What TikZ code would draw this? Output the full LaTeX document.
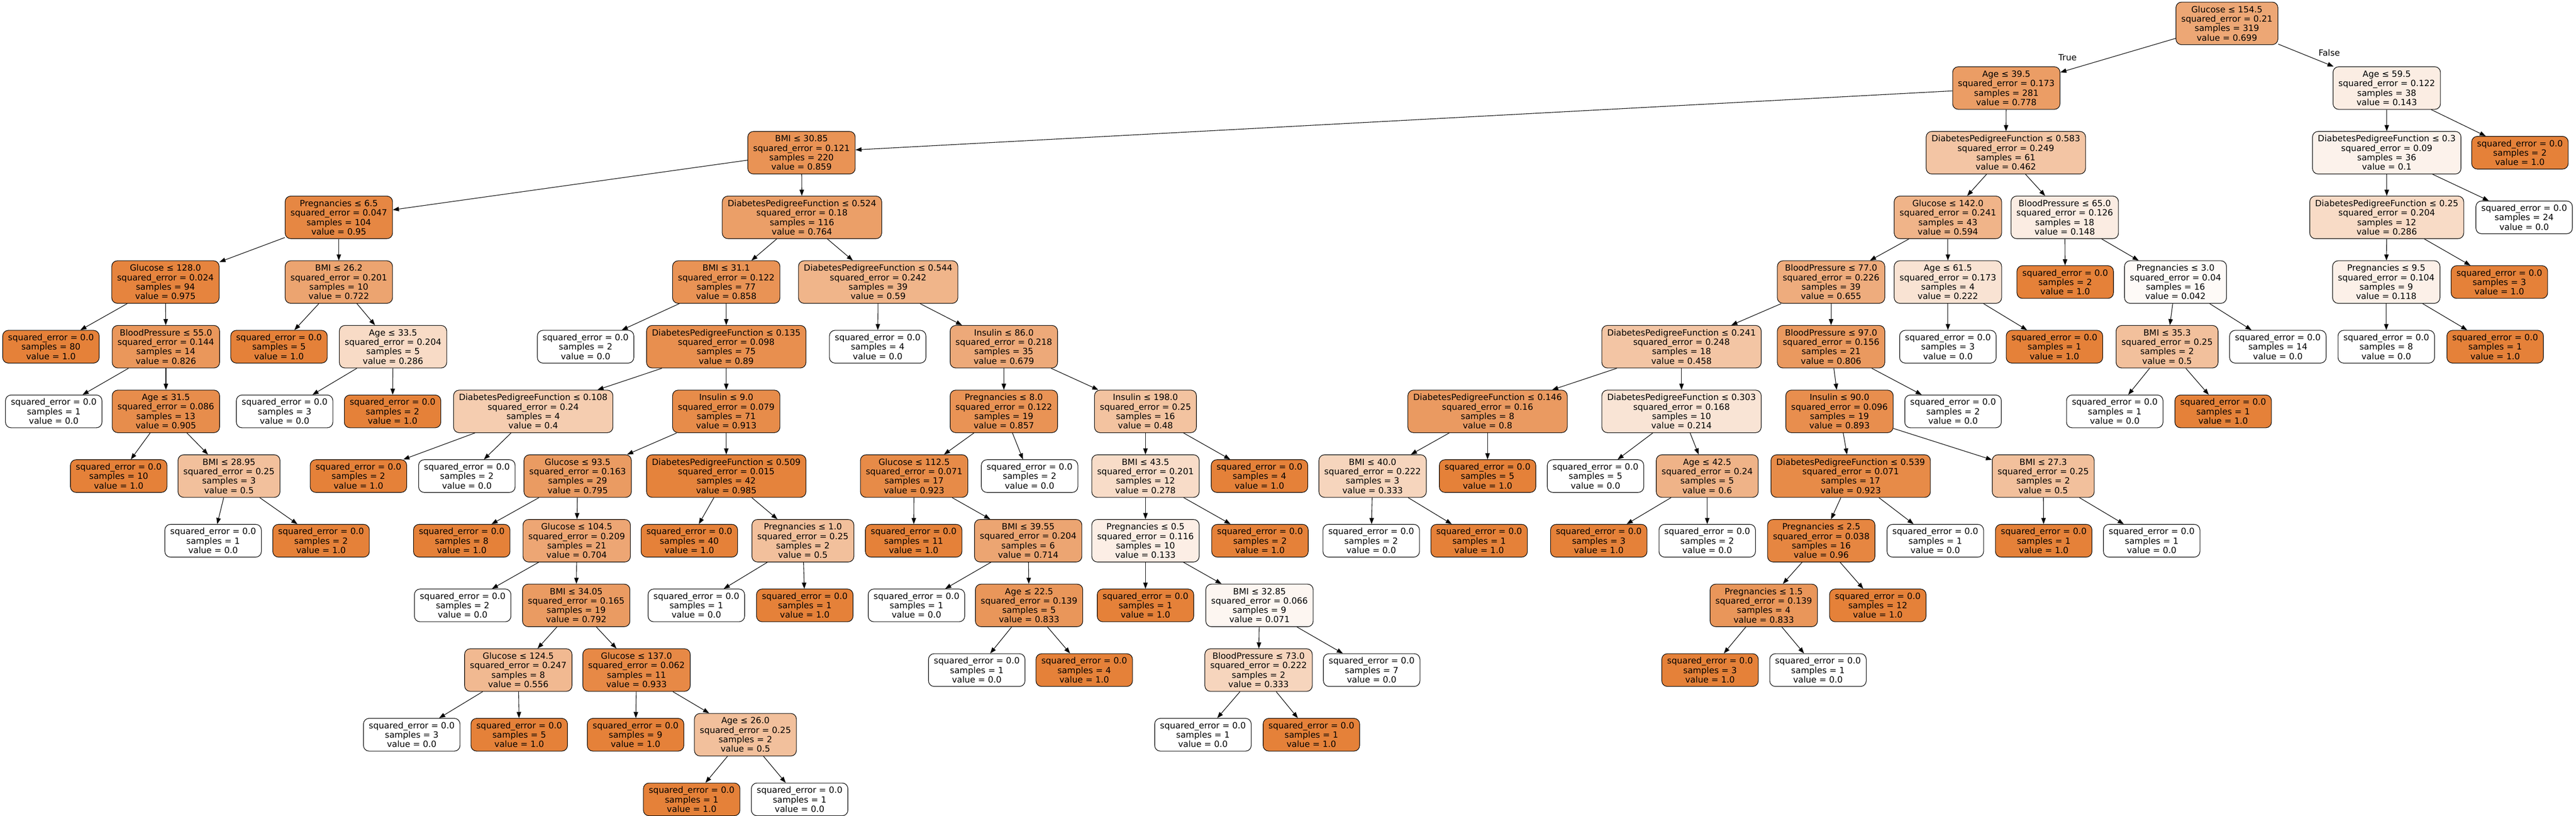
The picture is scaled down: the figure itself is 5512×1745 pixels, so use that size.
\documentclass[tikz,border=0pt]{standalone}
\usepackage{fontspec}
\setmainfont{DejaVu Sans}
\usetikzlibrary{arrows.meta}
\definecolor{sk}{RGB}{229,129,57}
\newcommand{\tfont}{\fontsize{18.3pt}{20.2pt}\selectfont}
\tikzset{
  basebox/.style={draw=black, line width=1.2pt, rounded corners=12pt, align=center,
    inner xsep=11.5pt, inner ysep=0pt, font=\tfont},
  inbox/.style={basebox, minimum height=91pt},
  leafbox/.style={basebox, minimum height=70pt},
  conn/.style={line width=1.2pt, -{Triangle[length=13pt,width=9.5pt]}},
  lbl/.style={font=\tfont, inner sep=0pt}
}
\newcommand{\inode}[7]{%
  \pgfmathsetmacro{\yy}{-50-138.3*#3}%
  \pgfmathsetmacro{\pc}{100*#7}%
  \node[inbox, fill=sk!\pc!white] (#1) at (#2,\yy) {#4\\squared\_error = #5\\samples = #6\\value = #7};}
\newcommand{\lnode}[5]{%
  \pgfmathsetmacro{\yy}{-50-138.3*#3}%
  \pgfmathsetmacro{\pc}{100*#5}%
  \node[leafbox, fill=sk!\pc!white] (#1) at (#2,\yy) {squared\_error = 0.0\\samples = #4\\value = #5};}
\newcommand{\ed}[2]{\draw[conn] (#1) -- (#2);}
\begin{document}
\begin{tikzpicture}[x=1pt,y=1pt]
\path[use as bounding box, fill=white] (0,0) rectangle (5512,-1745);
% row 0
\inode{n0}{4765}{0}{Glucose ≤ 154.5}{0.21}{319}{0.699}
% row 1
\inode{n1}{4293}{1}{Age ≤ 39.5}{0.173}{281}{0.778}
\inode{n2}{5107}{1}{Age ≤ 59.5}{0.122}{38}{0.143}
% row 2
\inode{n3}{1715}{2}{BMI ≤ 30.85}{0.121}{220}{0.859}
\inode{n4}{4292}{2}{DiabetesPedigreeFunction ≤ 0.583}{0.249}{61}{0.462}
\inode{n5}{5107}{2}{DiabetesPedigreeFunction ≤ 0.3}{0.09}{36}{0.1}
\lnode{n6}{5392}{2}{2}{1.0}
% row 3
\inode{n7}{725}{3}{Pregnancies ≤ 6.5}{0.047}{104}{0.95}
\inode{n8}{1716}{3}{DiabetesPedigreeFunction ≤ 0.524}{0.18}{116}{0.764}
\inode{n9}{4168}{3}{Glucose ≤ 142.0}{0.241}{43}{0.594}
\inode{n10}{4418}{3}{BloodPressure ≤ 65.0}{0.126}{18}{0.148}
\inode{n11}{5107}{3}{DiabetesPedigreeFunction ≤ 0.25}{0.204}{12}{0.286}
\lnode{n12}{5401}{3}{24}{0.0}
% row 4
\inode{n13}{354}{4}{Glucose ≤ 128.0}{0.024}{94}{0.975}
\inode{n14}{725}{4}{BMI ≤ 26.2}{0.201}{10}{0.722}
\inode{n15}{1554}{4}{BMI ≤ 31.1}{0.122}{77}{0.858}
\inode{n16}{1879}{4}{DiabetesPedigreeFunction ≤ 0.544}{0.242}{39}{0.59}
\inode{n17}{3918}{4}{BloodPressure ≤ 77.0}{0.226}{39}{0.655}
\inode{n18}{4168}{4}{Age ≤ 61.5}{0.173}{4}{0.222}
\lnode{n19}{4419}{4}{2}{1.0}
\inode{n20}{4655}{4}{Pregnancies ≤ 3.0}{0.04}{16}{0.042}
\inode{n21}{5106}{4}{Pregnancies ≤ 9.5}{0.104}{9}{0.118}
\lnode{n22}{5348}{4}{3}{1.0}
% row 5
\lnode{n23}{109}{5}{80}{1.0}
\inode{n24}{355}{5}{BloodPressure ≤ 55.0}{0.144}{14}{0.826}
\lnode{n25}{597}{5}{5}{1.0}
\inode{n26}{841}{5}{Age ≤ 33.5}{0.204}{5}{0.286}
\lnode{n27}{1253}{5}{2}{0.0}
\inode{n28}{1554}{5}{DiabetesPedigreeFunction ≤ 0.135}{0.098}{75}{0.89}
\lnode{n29}{1878}{5}{4}{0.0}
\inode{n30}{2148}{5}{Insulin ≤ 86.0}{0.218}{35}{0.679}
\inode{n31}{3598}{5}{DiabetesPedigreeFunction ≤ 0.241}{0.248}{18}{0.458}
\inode{n32}{3918}{5}{BloodPressure ≤ 97.0}{0.156}{21}{0.806}
\lnode{n33}{4168}{5}{3}{0.0}
\lnode{n34}{4396}{5}{1}{1.0}
\inode{n35}{4637}{5}{BMI ≤ 35.3}{0.25}{2}{0.5}
\lnode{n36}{4874}{5}{14}{0.0}
\lnode{n37}{5106}{5}{8}{0.0}
\lnode{n38}{5339}{5}{1}{1.0}
% row 6
\lnode{n39}{115}{6}{1}{0.0}
\inode{n40}{355}{6}{Age ≤ 31.5}{0.086}{13}{0.905}
\lnode{n41}{609}{6}{3}{0.0}
\lnode{n42}{840}{6}{2}{1.0}
\inode{n43}{1141}{6}{DiabetesPedigreeFunction ≤ 0.108}{0.24}{4}{0.4}
\inode{n44}{1554}{6}{Insulin ≤ 9.0}{0.079}{71}{0.913}
\inode{n45}{2148}{6}{Pregnancies ≤ 8.0}{0.122}{19}{0.857}
\inode{n46}{2451}{6}{Insulin ≤ 198.0}{0.25}{16}{0.48}
\inode{n47}{3183}{6}{DiabetesPedigreeFunction ≤ 0.146}{0.16}{8}{0.8}
\inode{n48}{3598}{6}{DiabetesPedigreeFunction ≤ 0.303}{0.168}{10}{0.214}
\inode{n49}{3936}{6}{Insulin ≤ 90.0}{0.096}{19}{0.893}
\lnode{n50}{4179}{6}{2}{0.0}
\lnode{n51}{4525}{6}{1}{0.0}
\lnode{n52}{4757}{6}{1}{1.0}
% row 7
\lnode{n53}{254}{7}{10}{1.0}
\inode{n54}{490}{7}{BMI ≤ 28.95}{0.25}{3}{0.5}
\lnode{n55}{767}{7}{2}{1.0}
\lnode{n56}{999}{7}{2}{0.0}
\inode{n57}{1236}{7}{Glucose ≤ 93.5}{0.163}{29}{0.795}
\inode{n58}{1554}{7}{DiabetesPedigreeFunction ≤ 0.509}{0.015}{42}{0.985}
\inode{n59}{1956}{7}{Glucose ≤ 112.5}{0.071}{17}{0.923}
\lnode{n60}{2203}{7}{2}{0.0}
\inode{n61}{2451}{7}{BMI ≤ 43.5}{0.201}{12}{0.278}
\lnode{n62}{2695}{7}{4}{1.0}
\inode{n63}{2937}{7}{BMI ≤ 40.0}{0.222}{3}{0.333}
\lnode{n64}{3183}{7}{5}{1.0}
\lnode{n65}{3414}{7}{5}{0.0}
\inode{n66}{3653}{7}{Age ≤ 42.5}{0.24}{5}{0.6}
\inode{n67}{3960}{7}{DiabetesPedigreeFunction ≤ 0.539}{0.071}{17}{0.923}
\inode{n68}{4372}{7}{BMI ≤ 27.3}{0.25}{2}{0.5}
% row 8
\lnode{n69}{456}{8}{1}{0.0}
\lnode{n70}{687}{8}{2}{1.0}
\lnode{n71}{988}{8}{8}{1.0}
\inode{n72}{1234}{8}{Glucose ≤ 104.5}{0.209}{21}{0.704}
\lnode{n73}{1475}{8}{40}{1.0}
\inode{n74}{1718}{8}{Pregnancies ≤ 1.0}{0.25}{2}{0.5}
\lnode{n75}{1955}{8}{11}{1.0}
\inode{n76}{2200}{8}{BMI ≤ 39.55}{0.204}{6}{0.714}
\inode{n77}{2451}{8}{Pregnancies ≤ 0.5}{0.116}{10}{0.133}
\lnode{n78}{2696}{8}{2}{1.0}
\lnode{n79}{2934}{8}{2}{0.0}
\lnode{n80}{3165}{8}{1}{1.0}
\lnode{n81}{3421}{8}{3}{1.0}
\lnode{n82}{3653}{8}{2}{0.0}
\inode{n83}{3897}{8}{Pregnancies ≤ 2.5}{0.038}{16}{0.96}
\lnode{n84}{4141}{8}{1}{0.0}
\lnode{n85}{4373}{8}{1}{1.0}
\lnode{n86}{4604}{8}{1}{0.0}
% row 9
\lnode{n87}{990}{9}{2}{0.0}
\inode{n88}{1233}{9}{BMI ≤ 34.05}{0.165}{19}{0.792}
\lnode{n89}{1490}{9}{1}{0.0}
\lnode{n90}{1722}{9}{1}{1.0}
\lnode{n91}{1961}{9}{1}{0.0}
\inode{n92}{2202}{9}{Age ≤ 22.5}{0.139}{5}{0.833}
\lnode{n93}{2451}{9}{1}{1.0}
\inode{n94}{2695}{9}{BMI ≤ 32.85}{0.066}{9}{0.071}
\inode{n95}{3774}{9}{Pregnancies ≤ 1.5}{0.139}{4}{0.833}
\lnode{n96}{4018}{9}{12}{1.0}
% row 10
\inode{n97}{1109}{10}{Glucose ≤ 124.5}{0.247}{8}{0.556}
\inode{n98}{1362}{10}{Glucose ≤ 137.0}{0.062}{11}{0.933}
\lnode{n99}{2090}{10}{1}{0.0}
\lnode{n100}{2320}{10}{4}{1.0}
\inode{n101}{2693}{10}{BloodPressure ≤ 73.0}{0.222}{2}{0.333}
\lnode{n102}{2935}{10}{7}{0.0}
\lnode{n103}{3659}{10}{3}{1.0}
\lnode{n104}{3890}{10}{1}{0.0}
% row 11
\lnode{n105}{881}{11}{3}{0.0}
\lnode{n106}{1111}{11}{5}{1.0}
\lnode{n107}{1360}{11}{9}{1.0}
\inode{n108}{1595}{11}{Age ≤ 26.0}{0.25}{2}{0.5}
\lnode{n109}{2574}{11}{1}{0.0}
\lnode{n110}{2806}{11}{1}{1.0}
% row 12
\lnode{n111}{1480}{12}{1}{1.0}
\lnode{n112}{1711}{12}{1}{0.0}
% edges
\ed{n0}{n1}\ed{n0}{n2}
\ed{n1}{n3}\ed{n1}{n4}
\ed{n2}{n5}\ed{n2}{n6}
\ed{n3}{n7}\ed{n3}{n8}
\ed{n4}{n9}\ed{n4}{n10}
\ed{n5}{n11}\ed{n5}{n12}
\ed{n7}{n13}\ed{n7}{n14}
\ed{n8}{n15}\ed{n8}{n16}
\ed{n9}{n17}\ed{n9}{n18}
\ed{n10}{n19}\ed{n10}{n20}
\ed{n11}{n21}\ed{n11}{n22}
\ed{n13}{n23}\ed{n13}{n24}
\ed{n14}{n25}\ed{n14}{n26}
\ed{n15}{n27}\ed{n15}{n28}
\ed{n16}{n29}\ed{n16}{n30}
\ed{n17}{n31}\ed{n17}{n32}
\ed{n18}{n33}\ed{n18}{n34}
\ed{n20}{n35}\ed{n20}{n36}
\ed{n21}{n37}\ed{n21}{n38}
\ed{n24}{n39}\ed{n24}{n40}
\ed{n26}{n41}\ed{n26}{n42}
\ed{n28}{n43}\ed{n28}{n44}
\ed{n30}{n45}\ed{n30}{n46}
\ed{n31}{n47}\ed{n31}{n48}
\ed{n32}{n49}\ed{n32}{n50}
\ed{n35}{n51}\ed{n35}{n52}
\ed{n40}{n53}\ed{n40}{n54}
\ed{n43}{n55}\ed{n43}{n56}
\ed{n44}{n57}\ed{n44}{n58}
\ed{n45}{n59}\ed{n45}{n60}
\ed{n46}{n61}\ed{n46}{n62}
\ed{n47}{n63}\ed{n47}{n64}
\ed{n48}{n65}\ed{n48}{n66}
\ed{n49}{n67}\ed{n49}{n68}
\ed{n54}{n69}\ed{n54}{n70}
\ed{n57}{n71}\ed{n57}{n72}
\ed{n58}{n73}\ed{n58}{n74}
\ed{n59}{n75}\ed{n59}{n76}
\ed{n61}{n77}\ed{n61}{n78}
\ed{n63}{n79}\ed{n63}{n80}
\ed{n66}{n81}\ed{n66}{n82}
\ed{n67}{n83}\ed{n67}{n84}
\ed{n68}{n85}\ed{n68}{n86}
\ed{n72}{n87}\ed{n72}{n88}
\ed{n74}{n89}\ed{n74}{n90}
\ed{n76}{n91}\ed{n76}{n92}
\ed{n77}{n93}\ed{n77}{n94}
\ed{n83}{n95}\ed{n83}{n96}
\ed{n88}{n97}\ed{n88}{n98}
\ed{n92}{n99}\ed{n92}{n100}
\ed{n94}{n101}\ed{n94}{n102}
\ed{n95}{n103}\ed{n95}{n104}
\ed{n97}{n105}\ed{n97}{n106}
\ed{n98}{n107}\ed{n98}{n108}
\ed{n101}{n109}\ed{n101}{n110}
\ed{n108}{n111}\ed{n108}{n112}
% edge labels
\node[lbl] (ltrue) at (4424,-123) {True};
\node[lbl] (lfalse) at (4984,-113) {False};
\end{tikzpicture}
\end{document}
